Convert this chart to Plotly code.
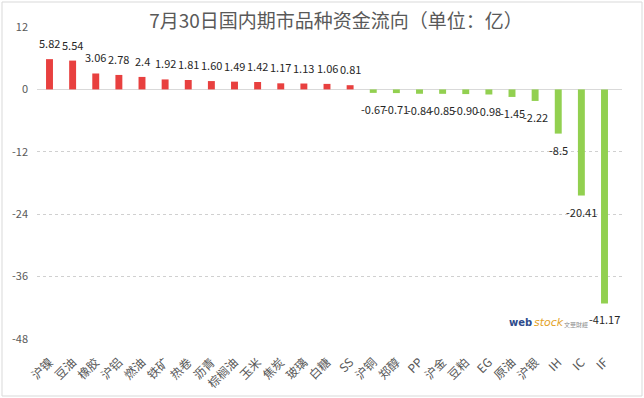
import plotly.graph_objects as go

categories = ["沪镍", "豆油", "橡胶", "沪铝", "燃油", "铁矿", "热卷", "沥青", "棕榈油", "玉米",
              "焦炭", "玻璃", "白糖", "SS", "沪铜", "郑醇", "PP", "沪金", "豆粕", "EG",
              "原油", "沪银", "IH", "IC", "IF"]
values = [5.82, 5.54, 3.06, 2.78, 2.4, 1.92, 1.81, 1.60, 1.49, 1.42,
          1.17, 1.13, 1.06, 0.81, -0.67, -0.71, -0.84, -0.85, -0.90, -0.98,
          -1.45, -2.22, -8.5, -20.41, -41.17]
value_labels = ["5.82", "5.54", "3.06", "2.78", "2.4", "1.92", "1.81", "1.60", "1.49", "1.42",
                "1.17", "1.13", "1.06", "0.81", "-0.67", "-0.71", "-0.84", "-0.85", "-0.90", "-0.98",
                "-1.45", "-2.22", "-8.5", "-20.41", "-41.17"]
y_ticks = [12, 0, -12, -24, -36, -48]

RED = "#E8403F"
GREEN = "#92D050"
FONT = "Noto Sans CJK SC"

colors = [RED if v >= 0 else GREEN for v in values]

fig = go.Figure()
fig.add_trace(go.Bar(x=categories, y=values, marker=dict(color=colors, line=dict(width=0)),
                     width=0.3, hoverinfo="x+y"))

annotations = []
for c, v, t in zip(categories, values, value_labels):
    annotations.append(dict(x=c, y=v, text=t, showarrow=False, xref="x", yref="y",
                            yanchor="bottom" if v >= 0 else "top",
                            yshift=6 if v >= 0 else -6,
                            font=dict(family=FONT, size=11, color="#262626")))

# watermark logo text
annotations += [
    dict(xref="paper", yref="paper", x=0.85, y=0.052, xanchor="right", yanchor="middle",
         text="<b>web</b>", showarrow=False, font=dict(family="DejaVu Sans", size=10, color="#2E4B8C")),
    dict(xref="paper", yref="paper", x=0.846, y=0.054, xanchor="left", yanchor="middle",
         text="<i>stock</i>", showarrow=False, font=dict(family="DejaVu Sans", size=11, color="#E3A32A")),
    dict(xref="paper", yref="paper", x=0.897, y=0.045, xanchor="left", yanchor="middle",
         text="文華財經", showarrow=False, font=dict(family=FONT, size=6, color="#8C8C8C")),
]

fig.update_layout(
    width=644, height=398,
    margin=dict(l=37, r=22, t=27, b=59, autoexpand=False),
    paper_bgcolor="white", plot_bgcolor="white",
    showlegend=False,
    bargap=0.7,
    title=dict(text="7月30日国内期市品种资金流向（单位：亿）", x=336 / 644, xanchor="center",
               y=1 - 21 / 398, yanchor="middle", yref="container", automargin=False,
               font=dict(family=FONT, size=19, color="#595959")),
    xaxis=dict(type="category", tickangle=-45, showgrid=False, showline=False, ticks="",
               automargin=False, ticklabelstandoff=13,
               tickfont=dict(family=FONT, size=12, color="#595959"), fixedrange=True),
    yaxis=dict(range=[-48, 12], tickvals=y_ticks, ticktext=[str(t) for t in y_ticks],
               showgrid=True, gridcolor="#D0D0D0", griddash="dot", gridwidth=1,
               zeroline=True, zerolinecolor="#D9D9D9", zerolinewidth=1,
               showline=False, ticks="", ticklabelstandoff=8, automargin=False,
               tickfont=dict(family=FONT, size=11, color="#595959"), fixedrange=True),
    annotations=annotations,
    shapes=[dict(type="rect", xref="paper", yref="paper",
                 x0=-35/585, x1=1 + 20/585, y0=-57/312, y1=1 + 25/312,
                 line=dict(color="#D9D9D9", width=1), fillcolor="rgba(0,0,0,0)")],
)

fig.write_html("out.html", config={"displayModeBar": False},
               post_script="document.body.style.margin='0px';document.body.style.padding='0px';")
